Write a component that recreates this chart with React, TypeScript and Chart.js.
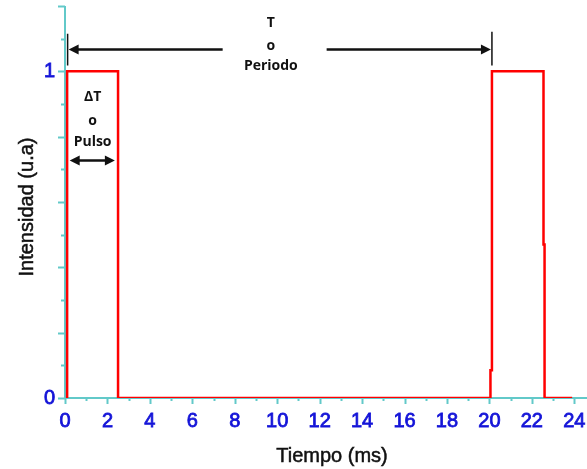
import React, { useEffect, useRef } from "react";
import { Chart, registerables } from "chart.js";

Chart.register(...registerables);

// Signal data (time in ms, intensity in u.a)
const timeMs = [0.1, 0.1, 2.5, 2.5, 20.05, 20.05, 20.12, 20.12, 22.55, 22.55, 22.6, 22.6, 23.9];
const intensity = [0, 1, 1, 0, 0, 0.085, 0.085, 1, 1, 0.47, 0.47, 0, 0];

// Axes
const xTickLabels = ["0", "2", "4", "6", "8", "10", "12", "14", "16", "18", "20", "22", "24"];
const yTickLabels = ["0", "1"];
const xMinorTicks = [1, 3, 5, 7, 9, 11, 13, 15, 17, 19, 21, 23];
const yMajorTicks = [0, 0.2, 0.4, 0.6, 0.8, 1.0, 1.2];
const yMinorTicks = [0.1, 0.3, 0.5, 0.7, 0.9, 1.1];

const xTitle = "Tiempo (ms)";
const yTitle = "Intensidad (u.a)";
const periodLines = ["T", "o", "Periodo"];
const pulseLines = ["ΔT", "o", "Pulso"];

const TEAL = "#62c9c9";
const BLUE = "#1414d8";
const RED = "#ff0000";

function arrowHead(ctx: CanvasRenderingContext2D, x: number, y: number, dir: number) {
  ctx.beginPath();
  ctx.moveTo(x, y);
  ctx.lineTo(x - dir * 10, y - 5);
  ctx.lineTo(x - dir * 10, y + 5);
  ctx.closePath();
  ctx.fill();
}

function heavyText(ctx: CanvasRenderingContext2D, s: string, x: number, y: number, w: number) {
  ctx.fillText(s, x, y);
  ctx.lineWidth = w;
  ctx.strokeText(s, x, y);
}

const decoPlugin = {
  id: "deco",
  beforeDatasetsDraw(chart: any) {
    const ctx = chart.ctx as CanvasRenderingContext2D;
    const xs = chart.scales.x;
    const ys = chart.scales.y;
    const { left, right, top, bottom } = chart.chartArea;
    ctx.save();
    ctx.strokeStyle = TEAL;
    ctx.lineWidth = 2;
    ctx.beginPath();
    ctx.moveTo(left, top);
    ctx.lineTo(left, bottom);
    ctx.lineTo(right, bottom);
    ctx.stroke();
    yMajorTicks.forEach((v) => {
      const py = Math.round(ys.getPixelForValue(v)) + 0.5;
      ctx.beginPath();
      ctx.moveTo(left - 7, py);
      ctx.lineTo(left, py);
      ctx.stroke();
    });
    yMinorTicks.forEach((v) => {
      const py = Math.round(ys.getPixelForValue(v)) + 0.5;
      ctx.beginPath();
      ctx.moveTo(left - 4, py);
      ctx.lineTo(left, py);
      ctx.stroke();
    });
    xTickLabels.forEach((l) => {
      const px = Math.round(xs.getPixelForValue(Number(l))) + 0.5;
      ctx.beginPath();
      ctx.moveTo(px, bottom);
      ctx.lineTo(px, bottom + 6);
      ctx.stroke();
    });
    xMinorTicks.forEach((v) => {
      const px = Math.round(xs.getPixelForValue(v)) + 0.5;
      ctx.beginPath();
      ctx.moveTo(px, bottom);
      ctx.lineTo(px, bottom + 3);
      ctx.stroke();
    });
    ctx.restore();
  },
  afterDraw(chart: any) {
    const ctx = chart.ctx as CanvasRenderingContext2D;
    const xs = chart.scales.x;
    const ys = chart.scales.y;
    const { left, bottom } = chart.chartArea;
    ctx.save();
    // tick labels
    ctx.fillStyle = BLUE;
    ctx.strokeStyle = BLUE;
    ctx.font = "20px 'Liberation Sans', Arial, sans-serif";
    ctx.textAlign = "center";
    ctx.textBaseline = "middle";
    xTickLabels.forEach((l) => {
      heavyText(ctx, l, xs.getPixelForValue(Number(l)), bottom + 23, 0.8);
    });
    ctx.textAlign = "right";
    yTickLabels.forEach((l) => {
      heavyText(ctx, l, left - 10, ys.getPixelForValue(Number(l)), 0.8);
    });
    // titles
    ctx.fillStyle = "#111";
    ctx.strokeStyle = "#111";
    ctx.textAlign = "center";
    ctx.textBaseline = "alphabetic";
    heavyText(ctx, xTitle, 332, 462, 0.5);
    ctx.save();
    ctx.translate(33, 207);
    ctx.rotate(-Math.PI / 2);
    heavyText(ctx, yTitle, 0, 0, 0.5);
    ctx.restore();

    // Period annotation
    ctx.fillStyle = "#111";
    ctx.strokeStyle = "#111";
    const px0 = xs.getPixelForValue(0.1);
    const px1 = xs.getPixelForValue(20.12);
    const ay = ys.getPixelForValue(1.067);
    const barTop = ys.getPixelForValue(1.115);
    const barBot = ys.getPixelForValue(1.018);
    ctx.lineWidth = 1.5;
    ctx.beginPath();
    ctx.moveTo(px0 + 0.5, barTop);
    ctx.lineTo(px0 + 0.5, barBot);
    ctx.moveTo(px1, barTop - 2);
    ctx.lineTo(px1, barBot);
    ctx.stroke();
    ctx.lineWidth = 2.5;
    const gapL = xs.getPixelForValue(7.43);
    const gapR = xs.getPixelForValue(12.33);
    ctx.beginPath();
    ctx.moveTo(px0 + 8, ay);
    ctx.lineTo(gapL, ay);
    ctx.moveTo(gapR, ay);
    ctx.lineTo(px1 - 8, ay);
    ctx.stroke();
    arrowHead(ctx, px0 + 1.5, ay, -1);
    arrowHead(ctx, px1 - 1, ay, 1);

    ctx.font = "bold 14px 'Open Sans', 'Noto Sans', sans-serif";
    ctx.textAlign = "center";
    ctx.textBaseline = "middle";
    const tx = xs.getPixelForValue(9.7);
    const tYs = [1.147, 1.077, 1.015];
    periodLines.forEach((s, i) => ctx.fillText(s, tx, ys.getPixelForValue(tYs[i])));

    // Pulse annotation
    const qx = xs.getPixelForValue(1.3);
    const qYs = [0.92, 0.847, 0.785];
    pulseLines.forEach((s, i) => ctx.fillText(s, qx, ys.getPixelForValue(qYs[i])));
    const by = ys.getPixelForValue(0.727);
    const bx0 = xs.getPixelForValue(0.22);
    const bx1 = xs.getPixelForValue(2.35);
    ctx.lineWidth = 2.5;
    ctx.beginPath();
    ctx.moveTo(bx0 + 6, by);
    ctx.lineTo(bx1 - 6, by);
    ctx.stroke();
    arrowHead(ctx, bx0, by, -1);
    arrowHead(ctx, bx1, by, 1);
    ctx.restore();
  },
};

export default function App() {
  const ref = useRef<HTMLCanvasElement>(null);
  useEffect(() => {
    if (!ref.current) return;
    const chart = new Chart(ref.current, {
      type: "line",
      data: {
        datasets: [
          {
            data: timeMs.map((t, i) => ({ x: t, y: intensity[i] })),
            borderColor: RED,
            borderWidth: 2.5,
            pointRadius: 0,
            tension: 0,
            fill: false,
          },
        ],
      },
      options: {
        animation: false,
        responsive: false,
        devicePixelRatio: 1,
        layout: { padding: { left: 65, right: 0, top: 6, bottom: 71 } },
        plugins: { legend: { display: false }, tooltip: { enabled: false } },
        scales: {
          x: { type: "linear", min: 0, max: 24.6, display: false },
          y: { type: "linear", min: 0, max: 1.2, display: false },
        },
      },
      plugins: [decoPlugin],
    });
    return () => chart.destroy();
  }, []);
  return (
    <div style={{ position: "fixed", left: 0, top: 0, width: 587, height: 469, background: "#fff" }}>
      <canvas ref={ref} width={587} height={469} />
    </div>
  );
}
